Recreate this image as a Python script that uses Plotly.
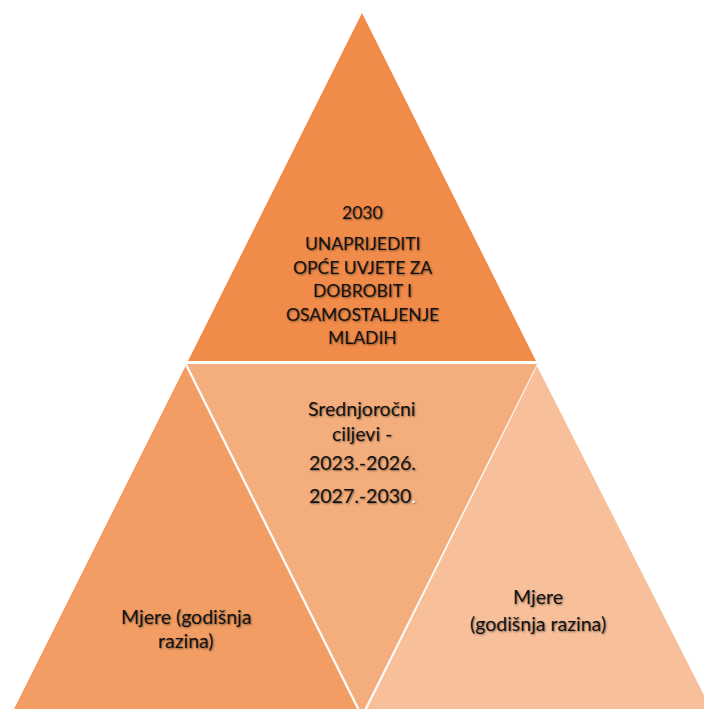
import plotly.graph_objects as go

# Shape labels
top_lines = ["2030", "UNAPRIJEDITI", "OPĆE UVJETE ZA", "DOBROBIT I", "OSAMOSTALJENJE", "MLADIH"]
middle_lines = ["Srednjoročni", "ciljevi -", "2023.-2026.", "2027.-2030<span style='color:#ffffff'>.</span>"]
left_lines = ["Mjere (godišnja", "razina)"]
right_lines = ["Mjere", "(godišnja razina)"]

W, H = 704, 709

# geometry (pixel space)
polys = {
    "top": ([362, 188, 536], [13, 361, 361], "#F08B4A"),
    "middle": ([187, 537, 362], [364, 364, 714], "#F4AE7D"),
    "left": ([185.5, 14, 357], [366, 709, 709], "#F19D63"),
    "right": ([537, 367, 711], [366, 709, 709], "#F7BF9A"),
}

fig = go.Figure()
for name, (xs, ys, col) in polys.items():
    fig.add_trace(go.Scatter(x=xs + [xs[0]], y=ys + [ys[0]], fill="toself", fillcolor=col,
                             mode="lines", line=dict(width=0, color=col), hoverinfo="skip",
                             showlegend=False))

FONT = "Lato"
shadow = "1px 1px 2px rgba(0,0,0,0.45)"

def add_lines(lines, x, ys, fs):
    for t, y in zip(lines, ys):
        fig.add_annotation(x=x, y=y, text=t, showarrow=False, xanchor="center", yanchor="middle",
                           font=dict(family=FONT, size=fs, color="#111111", shadow=shadow))

add_lines(top_lines, 362, [212, 243, 267, 290, 314, 337], 17.5)
add_lines(middle_lines, 362, [408, 433, 462, 495], 19.5)
add_lines(left_lines, 186, [616, 640], 19.5)
add_lines(right_lines, 538, [596, 623], 19.5)

fig.update_layout(width=W, height=H, margin=dict(l=0, r=0, t=0, b=0),
                  paper_bgcolor="white", plot_bgcolor="white")
fig.update_xaxes(range=[0, W], visible=False, fixedrange=True)
fig.update_yaxes(range=[H, 0], visible=False, fixedrange=True)

fig.write_html("out.html", config={"displayModeBar": False},
               post_script="document.body.style.margin='0';document.body.style.overflow='hidden';")
